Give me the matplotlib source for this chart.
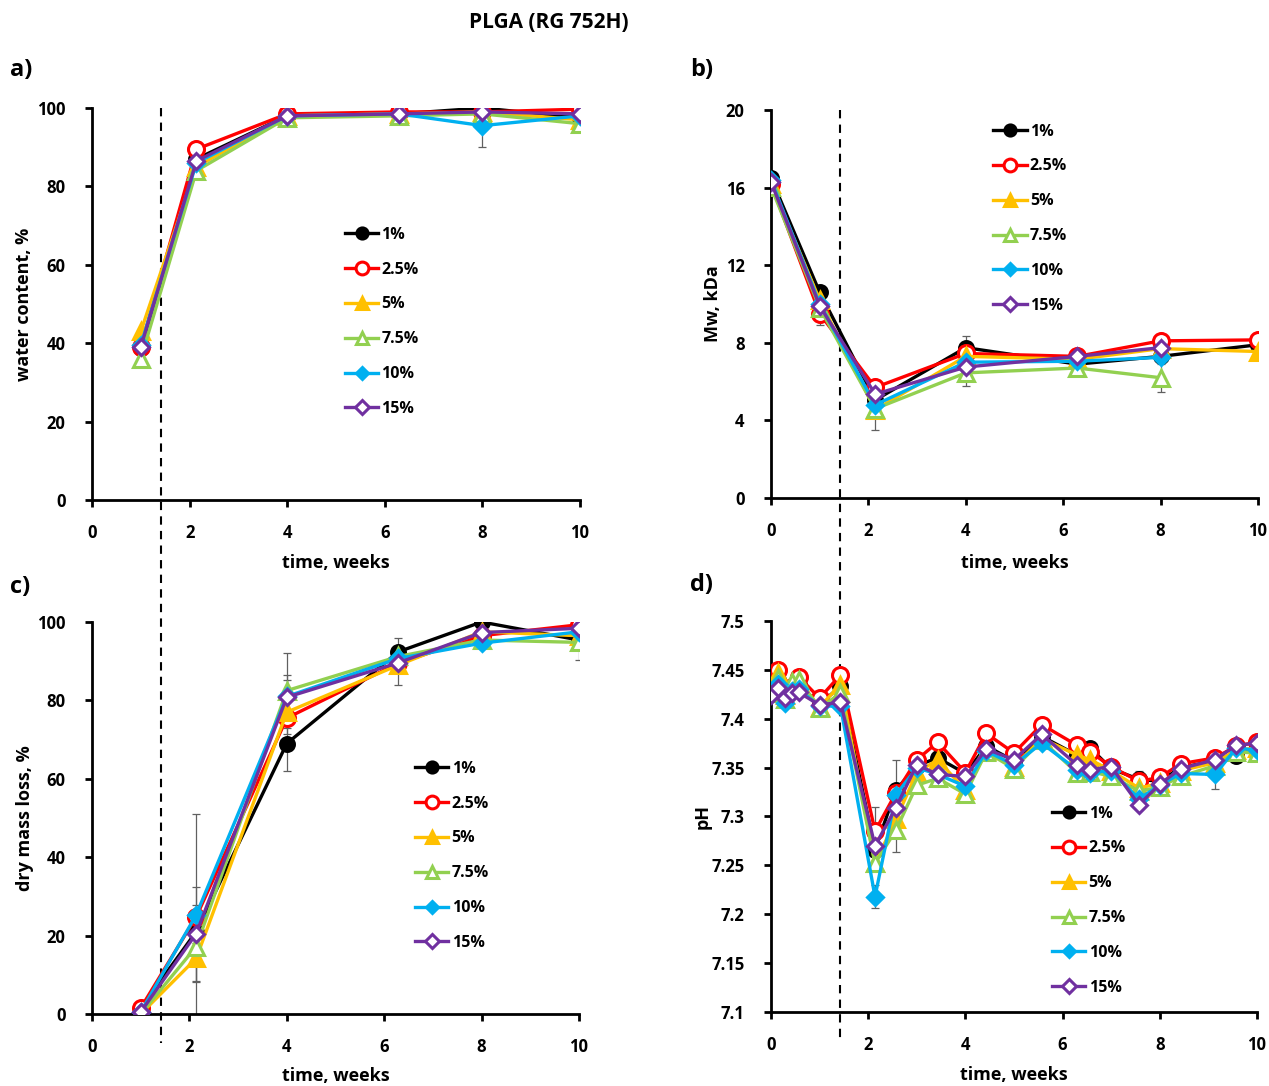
import numpy as np
import matplotlib
matplotlib.use("Agg")
import matplotlib.pyplot as plt
from matplotlib.lines import Line2D

plt.rcParams['font.family'] = ['Open Sans', 'DejaVu Sans']
plt.rcParams['font.weight'] = 'bold'

# ---------------- data ----------------
labels = ["1%", "2.5%", "5%", "7.5%", "10%", "15%"]

# a) water content
t_a = [1, 2.14, 4, 6.29, 8, 10]
wc_1 = [38.8, 87.0, 98.0, 98.5, 100.0, 97.5]
wc_25 = [39.0, 89.5, 98.5, 99.0, 99.0, 99.7]
wc_5 = [43.0, 85.0, 98.0, 98.5, 99.0, 97.0]
wc_75 = [36.0, 84.0, 97.5, 98.0, 98.5, 96.0]
wc_10 = [39.5, 86.0, 98.0, 98.5, 95.5, 98.0]
wc_15 = [39.0, 86.5, 98.0, 98.5, 99.0, 98.5]
wc_err_10 = [0.5, 0.5, 0.5, 0.5, 5.5, 0.5]

# b) Mw
t_b = [0, 1, 2.14, 4, 6.29, 8, 10]
mw_1 = [16.5, 10.6, 5.05, 7.75, 6.9, 7.3, 7.9]
mw_25 = [16.2, 9.5, 5.7, 7.45, 7.3, 8.1, 8.15]
mw_5 = [16.2, 10.2, 4.55, 7.3, 7.15, 7.7, 7.55]
mw_75 = [16.05, 9.8, 4.6, 6.45, 6.7, 6.2, np.nan]
mw_10 = [16.4, 10.0, 4.8, 7.0, 7.05, 7.25, np.nan]
mw_15 = [16.3, 9.9, 5.35, 6.75, 7.3, 7.75, np.nan]
mw_err_1 = [0.2, 0.2, 0.3, 0.6, 0.2, 0.2, 0.2]
mw_err_25 = [0.2, 0.6, 0.2, 0.2, 0.2, 0.2, 0.2]
mw_err_5 = [0.2, 0.2, 1.07, 0.2, 0.2, 0.2, 0.2]
mw_err_75 = [0.2, 0.2, 0.5, 0.7, 0.2, 0.72, np.nan]

# c) dry mass loss
t_c = [1, 2.14, 4, 6.29, 8, 10]
dm_1 = [1.5, 21.0, 69.0, 92.4, 100.0, 95.4]
dm_25 = [1.5, 24.8, 75.5, 89.5, 96.5, 99.3]
dm_5 = [0.0, 14.2, 77.0, 89.0, 97.5, 96.5]
dm_75 = [0.0, 17.2, 82.5, 91.2, 95.4, 94.8]
dm_10 = [0.5, 25.3, 81.0, 90.7, 94.6, 97.5]
dm_15 = [0.5, 20.5, 80.8, 89.6, 97.3, 98.4]
dm_err_1 = [0.5, 30.0, 7.0, 3.6, 0.5, 0.5]
dm_err_25 = [0.5, 3.0, 1.0, 1.0, 0.5, 0.5]
dm_err_5 = [0.5, 6.0, 5.5, 5.0, 0.5, 0.5]
dm_err_75 = [0.5, 1.0, 9.5, 1.0, 0.5, 4.5]
dm_err_10 = [0.5, 1.0, 5.5, 1.0, 0.5, 0.5]
dm_err_15 = [0.5, 12.0, 4.4, 1.0, 0.5, 0.5]

# d) pH
t_d = [0, 0.14, 0.29, 0.43, 0.57, 1, 1.43, 2.14, 2.57, 3, 3.43, 4,
       4.43, 5, 5.57, 6.29, 6.57, 7, 7.57, 8, 8.43, 9.14, 9.57, 10]
ph_1 = [7.430, 7.440, 7.425, 7.430, 7.435, 7.415, 7.433, 7.266, 7.327, 7.352, 7.360, 7.344,
        7.372, 7.357, 7.382, 7.363, 7.370, 7.349, 7.338, 7.336, 7.350, 7.357, 7.362, 7.371]
ph_25 = [7.433, 7.450, 7.428, 7.432, 7.443, 7.421, 7.445, 7.285, 7.324, 7.358, 7.376, 7.345,
         7.385, 7.365, 7.394, 7.373, 7.366, 7.351, 7.336, 7.340, 7.354, 7.360, 7.372, 7.376]
ph_5 = [7.428, 7.447, 7.424, 7.435, 7.438, 7.412, 7.435, 7.252, 7.297, 7.345, 7.358, 7.327,
        7.367, 7.351, 7.380, 7.363, 7.358, 7.347, 7.329, 7.334, 7.347, 7.355, 7.368, 7.370]
ph_75 = [7.426, 7.442, 7.420, 7.438, 7.440, 7.411, 7.426, 7.252, 7.286, 7.332, 7.339, 7.323,
         7.366, 7.349, 7.378, 7.345, 7.346, 7.341, 7.326, 7.330, 7.341, 7.352, 7.366, 7.365]
ph_10 = [7.426, 7.436, 7.416, 7.428, 7.430, 7.413, 7.413, 7.218, 7.322, 7.350, 7.343, 7.331,
         7.367, 7.353, 7.375, 7.348, 7.345, 7.347, 7.318, 7.332, 7.344, 7.343, 7.370, 7.368]
ph_15 = [7.424, 7.431, 7.421, 7.426, 7.427, 7.414, 7.417, 7.270, 7.309, 7.353, 7.343, 7.341,
         7.369, 7.358, 7.384, 7.353, 7.348, 7.351, 7.312, 7.333, 7.349, 7.358, 7.373, 7.375]
ph_err_1 = [0]*8 + [0.031] + [0]*9 + [0.009] + [0]*5
ph_err_25 = [0]*7 + [0.025] + [0]*16
ph_err_75 = [0]*8 + [0.022] + [0]*15
ph_err_10 = [0]*7 + [0.012] + [0]*7 + [0.012] + [0]*5 + [0.015, 0, 0]

vline_t = 1.42

# ---------------- styles ----------------
styles = [
    dict(color='black', marker='o', mfc='black', ms=10),
    dict(color='#FF0000', marker='o', mfc='white', ms=11.5),
    dict(color='#FFC000', marker='^', mfc='#FFC000', ms=11),
    dict(color='#92D050', marker='^', mfc='white', ms=11),
    dict(color='#00B0F0', marker='D', mfc='#00B0F0', ms=8),
    dict(color='#7030A0', marker='D', mfc='white', ms=8.5),
]

W, H = 1269, 1086
fig = plt.figure(figsize=(W / 100, H / 100), dpi=100)


def px_axes(l, r, t, b):
    ax = fig.add_axes([l / W, 1 - b / H, (r - l) / W, (b - t) / H])
    ax.set_facecolor('none')
    return ax


ax_a = px_axes(92, 580, 108, 500)
ax_b = px_axes(771, 1258, 110, 498)
ax_c = px_axes(92, 579, 622, 1014)
ax_d = px_axes(771, 1257, 621, 1012)


def draw(ax, t, series, errs, ylim, yticks, ylabel, ylab_x, xlab_y, leg_xy, yfmt=None):
    for e_idx, e in errs.items():
        ax.errorbar(t, series[e_idx], yerr=e, fmt='none', ecolor='#606060',
                    elinewidth=0.9, capsize=3, capthick=0.9, zorder=1)
    for i, (y, st) in enumerate(zip(series, styles)):
        ax.plot(t, y, color=st['color'], lw=2.4, marker=st['marker'],
                markerfacecolor=st['mfc'], markeredgecolor=st['color'],
                markeredgewidth=2.2, markersize=st['ms'], label=labels[i],
                zorder=2 + i)
    ax.set_xlim(0, 10)
    ax.set_ylim(*ylim)
    ax.set_xticks([0, 2, 4, 6, 8, 10])
    ax.set_yticks(yticks)
    if yfmt:
        ax.set_yticklabels([yfmt(v) for v in yticks])
    for s in ['top', 'right']:
        ax.spines[s].set_visible(False)
    for s in ['left', 'bottom']:
        ax.spines[s].set_linewidth(2)
    ax.tick_params(axis='both', direction='out', length=5, width=2, labelsize=12)
    ax.tick_params(axis='x', pad=12)
    ax.tick_params(axis='y', pad=14)
    for lab in ax.get_xticklabels() + ax.get_yticklabels():
        lab.set_fontweight('bold')
    ax.set_xlabel('time, weeks', fontsize=13, fontweight='bold')
    ax.xaxis.set_label_coords(0.5, xlab_y)
    ax.set_ylabel(ylabel, fontsize=13, fontweight='bold')
    ax.yaxis.set_label_coords(ylab_x, 0.5)
    leg = ax.legend(loc='upper left', bbox_to_anchor=leg_xy, frameon=False,
                    borderpad=0, borderaxespad=0, handlelength=2.1,
                    handletextpad=0.2, labelspacing=1.18, numpoints=1,
                    markerscale=0.8, prop=dict(size=11.5, weight='bold'))
    for ln in leg.get_lines():
        ln.set_linewidth(2.4)


draw(ax_a, t_a, [wc_1, wc_25, wc_5, wc_75, wc_10, wc_15], {4: wc_err_10},
     (0, 100), [0, 20, 40, 60, 80, 100], 'water content, %', -0.12, -0.138,
     (0.518, 0.697))
draw(ax_b, t_b, [mw_1, mw_25, mw_5, mw_75, mw_10, mw_15],
     {0: mw_err_1, 1: mw_err_25, 2: mw_err_5, 3: mw_err_75},
     (0, 20), [0, 4, 8, 12, 16, 20], 'Mw, kDa', -0.10, -0.144, (0.456, 0.965))
draw(ax_c, t_c, [dm_1, dm_25, dm_5, dm_75, dm_10, dm_15],
     {0: dm_err_1, 1: dm_err_25, 2: dm_err_5, 3: dm_err_75, 4: dm_err_10, 5: dm_err_15},
     (0, 100), [0, 20, 40, 60, 80, 100], 'dry mass loss, %', -0.12, -0.135,
     (0.663, 0.646))
draw(ax_d, t_d, [ph_1, ph_25, ph_5, ph_75, ph_10, ph_15],
     {0: ph_err_1, 1: ph_err_25, 3: ph_err_75, 4: ph_err_10},
     (7.1, 7.5), [7.1, 7.15, 7.2, 7.25, 7.3, 7.35, 7.4, 7.45, 7.5], 'pH', -0.123,
     -0.138, (0.578, 0.528), yfmt=lambda v: f"{v:g}")

# dashed vertical lines spanning both rows (behind the data)
fig.canvas.draw()
for top_ax, yt, yb in [(ax_a, 108, 1043), (ax_b, 110, 1040)]:
    xpix = top_ax.transData.transform((vline_t, 0))[0]
    fig.add_artist(Line2D([xpix / W, xpix / W], [1 - yt / H, 1 - yb / H],
                          transform=fig.transFigure, color='black', lw=1.5,
                          linestyle=(0, (4, 3)), zorder=-1))

fig.text(549 / W, 1 - 22 / H, 'PLGA (RG 752H)', ha='center', va='center',
         fontsize=15, fontweight='bold')
for txt, x, y in [('a)', 10, 70), ('b)', 690, 70), ('c)', 10, 587), ('d)', 690, 585)]:
    fig.text(x / W, 1 - y / H, txt, ha='left', va='center', fontsize=17,
             fontweight='bold')

fig.savefig('out.png', dpi=100)
